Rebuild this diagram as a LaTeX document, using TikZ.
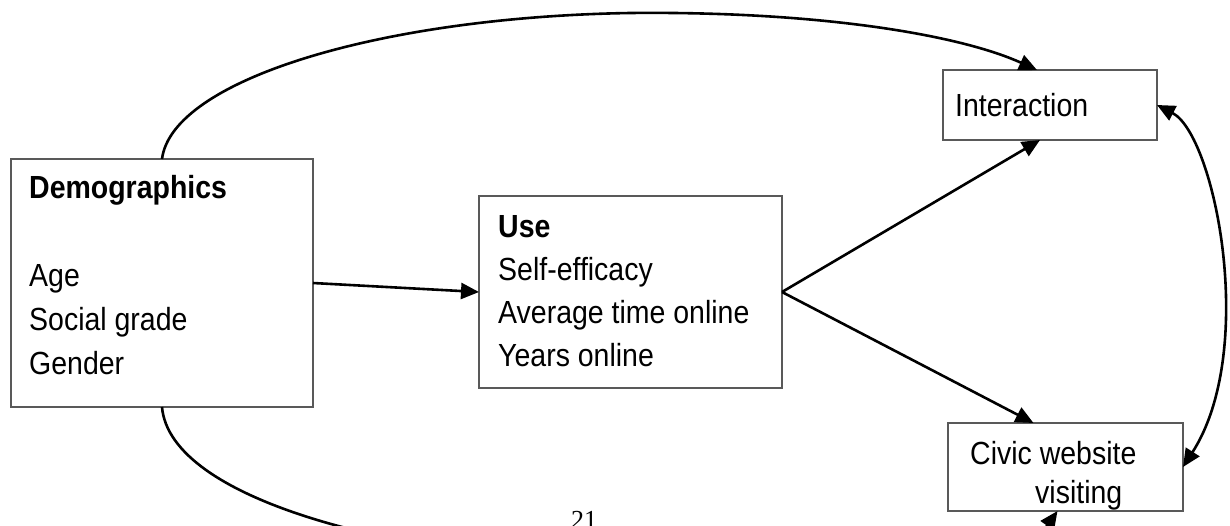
\documentclass[tikz,border=0pt]{standalone}
\usepackage{fontspec}
\setmainfont{Liberation Sans}[FakeStretch=0.89]
\newfontfamily\pagenumfont{Liberation Serif}
\usetikzlibrary{arrows.meta}
\begin{document}
\begin{tikzpicture}[x=1pt,y=-1pt,
  box/.style={draw=black!65, line width=1.2pt, rectangle, inner sep=0pt, outer sep=0pt},
  boxtext/.style={anchor=north west, inner sep=0pt, align=left, font=\fontsize{32}{43}\selectfont},
  conn/.style={line width=2.6pt, -{Triangle[length=18pt,width=16pt]}},
  bothconn/.style={line width=2.6pt, {Triangle[length=18pt,width=16pt]}-{Triangle[length=18pt,width=16pt]}}]
\useasboundingbox (0,0) rectangle (1230,525);
\clip (0,0) rectangle (1230,525);
\fill[white] (0,0) rectangle (1230,525);

% boxes
\node[box, minimum width=302pt, minimum height=248pt] (demo) at (162,283) {};
\node[box, minimum width=303pt, minimum height=192pt] (use) at (630.5,292) {};
\node[box, minimum width=214pt, minimum height=70pt] (inter) at (1050,105) {};
\node[box, minimum width=235pt, minimum height=88pt] (civic) at (1065.5,467) {};

% texts
\node[boxtext, font=\fontsize{32}{44}\selectfont] (demotext) at (29,175.5)
  {\textbf{Demographics}\\[0pt] \\ Age\\ Social grade\\ Gender};
\node[boxtext] (usetext) at (498,215.5)
  {\textbf{Use}\\ Self-efficacy\\ Average time online\\ Years online};
\node[boxtext] (intertext) at (955,93.5) {Interaction};
\node[boxtext, font=\fontsize{32}{39}\selectfont] (civictext) at (970,441.5)
  {Civic website\\ \hspace*{65pt}visiting};

% page number (cut off at the bottom, as in the reference)
\node[anchor=north, inner sep=0pt, font=\pagenumfont\fontsize{26}{30}\selectfont] (pagenum) at (584,511) {21};

% connectors
\coordinate (toppeak) at (630,13);
\coordinate (botlow) at (640,565);
\draw[conn] (demo.north) .. controls (172,80) and (380,17) .. (toppeak)
  .. controls (820,11) and (960,35) .. ([xshift=-13pt]inter.north);
\draw[conn] (demo.south) .. controls (170,500) and (400,560) .. (botlow)
  .. controls (900,570) and (1030,550) .. ([xshift=-8pt]civic.south);
\draw[conn] (demo.east) -- (use.west);
\draw[conn] (use.east) -- ([xshift=-10pt]inter.south);
\draw[conn] (use.east) -- ([xshift=-32pt]civic.north);
\draw[bothconn] (inter.east) .. controls (1215,135) and (1258,350) .. (civic.east);
\end{tikzpicture}
\end{document}
